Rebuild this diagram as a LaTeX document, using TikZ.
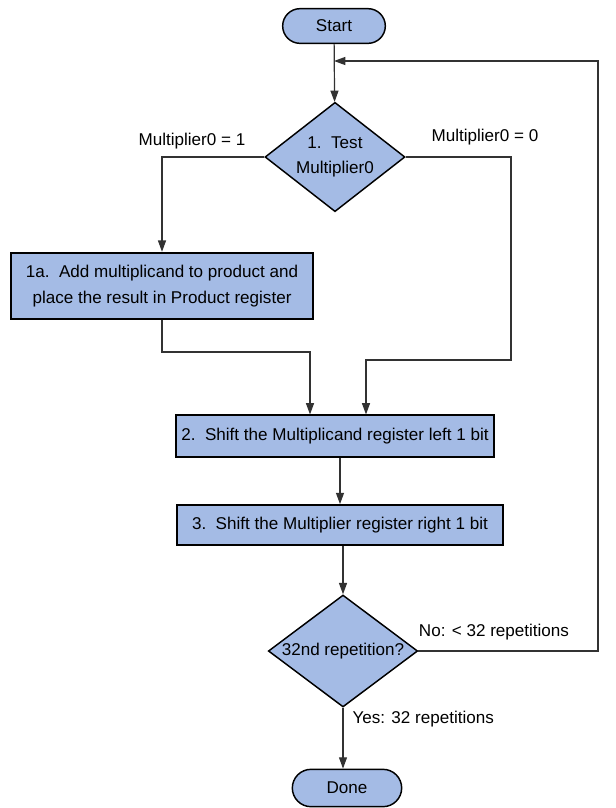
\documentclass[tikz,border=0pt]{standalone}
\usepackage{fontspec}
\setmainfont{Liberation Sans}
\usetikzlibrary{shapes.geometric,shapes.misc,arrows.meta}
\definecolor{stepblue}{RGB}{164,187,229}
\definecolor{wiregray}{RGB}{50,50,50}

\tikzset{
  stepbox/.style={draw=black, line width=1.3pt, fill=stepblue, inner sep=0pt,
    align=center, font=\fontsize{12.8}{20}\selectfont},
  testbox/.style={diamond, aspect=1.35, draw=black, line width=1.1pt, fill=stepblue, inner sep=0pt,
    align=center, font=\fontsize{12.8}{19}\selectfont},
  termbox/.style={rounded rectangle, draw=black, line width=1.1pt, fill=stepblue,
    inner sep=0pt, font=\fontsize{12.8}{15}\selectfont},
  wire/.style={draw=wiregray, line width=0.9pt},
  tag/.style={inner sep=1pt, font=\fontsize{12.8}{15}\selectfont}
}

\begin{document}
\begin{tikzpicture}[x=0.75pt, y=-0.75pt, >={Triangle[length=8.5pt,width=6pt]}]
  \useasboundingbox (0,0) rectangle (616,808);
  % ------- start and the first test -------
  \node[termbox, minimum width=77pt, minimum height=26pt] (start) at (334,26) {Start};
  \node[testbox, minimum width=105pt, minimum height=82pt] (test) at (335,157)
    {1.\ \ Test\\ Multiplier0};
  % ------- the steps -------
  \node[stepbox, minimum width=226pt, minimum height=50pt] (add) at (162,286)
    {1a.\ \ Add multiplicand to product and\\ place the result in Product register};
  \node[stepbox, minimum width=238pt, minimum height=31pt] (shiftmc) at (335,436)
    {2.\ \ Shift the Multiplicand register left 1 bit};
  \node[stepbox, minimum width=245pt, minimum height=30pt] (shiftmp) at (340,525)
    {3.\ \ Shift the Multiplier register right 1 bit};
  \node[testbox, minimum width=112pt, minimum height=84pt] (rep) at (343,651)
    {32nd repetition?};
  \node[termbox, minimum width=82pt, minimum height=28pt] (done) at (347,788) {Done};
  % ------- labels -------
  \node[tag] (oneTag) at (192,141) {Multiplier0 = 1};
  \node[tag] (zeroTag) at (485,137) {Multiplier0 = 0};
  \node[tag] (noTag) at (494,632) {No: < 32 repetitions};
  \node[tag, anchor=west] (yesTag) at (351,719) {Yes: 32 repetitions};
  % turning points
  \coordinate (loop) at (598,61);
  \coordinate (zeroturn) at (511,360);
  \coordinate (zerodrop) at (366,360);
  \coordinate (onejoin) at (310,352);
  % ------- connectors -------
  \draw[wire, ->] (start) -- (test);
  \draw[wire, ->] (test.west) -| (add.north);
  \draw[wire, ->] (test.east) -| (zeroturn) -- (zerodrop) -- (zerodrop |- shiftmc.north);
  \draw[wire, ->] (add.south) |- (onejoin) -- (onejoin |- shiftmc.north);
  \draw[wire, ->] (shiftmp.north |- shiftmc.south) -- (shiftmp.north);
  \draw[wire, ->] (rep.north |- shiftmp.south) -- (rep.north);
  \draw[wire, ->] (rep.south) -- (rep.south |- done.north);
  \draw[wire, ->] (rep.east) -| (loop) -- (start.south |- loop);
\end{tikzpicture}
\end{document}
